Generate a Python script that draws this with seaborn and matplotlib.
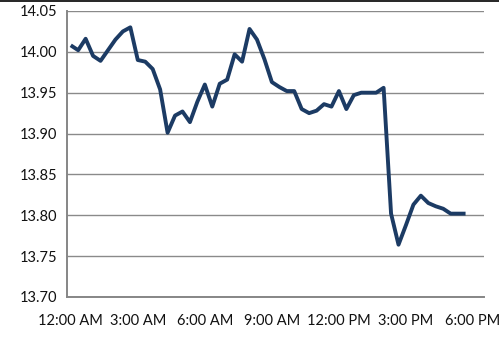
import numpy as np
import pandas as pd
import matplotlib
matplotlib.use("Agg")
import matplotlib.pyplot as plt
import seaborn as sns
from matplotlib.lines import Line2D

# 20-minute intervals starting at 12:00 AM
values = [14.008, 14.002, 14.016, 13.995, 13.989, 14.002, 14.015, 14.025, 14.030,
          13.990, 13.988, 13.979, 13.954, 13.901, 13.922, 13.927, 13.914, 13.939,
          13.960, 13.933, 13.961, 13.966, 13.997, 13.988, 14.028, 14.015, 13.991,
          13.963, 13.957, 13.952, 13.952, 13.930, 13.925, 13.928, 13.936, 13.933,
          13.952, 13.930, 13.947, 13.950, 13.950, 13.950, 13.956, 13.802, 13.764,
          13.788, 13.813, 13.824, 13.815, 13.811, 13.808, 13.802, 13.802, 13.802]
n_categories = 56
tick_labels = ["12:00 AM", "3:00 AM", "6:00 AM", "9:00 AM", "12:00 PM", "3:00 PM", "6:00 PM"]
label_every = 9
y_ticks = [13.70, 13.75, 13.80, 13.85, 13.90, 13.95, 14.00, 14.05]

df = pd.DataFrame({"slot": np.arange(len(values)), "price": values})

sns.set_style("white")
plt.rcParams["font.family"] = ["Lato", "DejaVu Sans"]

fig = plt.figure(figsize=(4.99, 3.37), dpi=100)
ax = fig.add_axes([0.1343, 0.1187, 0.836, 0.8487])

sns.lineplot(data=df, x="slot", y="price", ax=ax, color="#1C3B64", linewidth=2.8,
             solid_joinstyle="round", solid_capstyle="butt")

ax.set_xlim(-0.5, n_categories - 0.5)
ax.set_ylim(y_ticks[0], y_ticks[-1])
ax.set_yticks(y_ticks)
ax.set_yticklabels([f"{v:.2f}" for v in y_ticks])

ax.set_xticks(np.arange(0, n_categories + 1) - 0.5)
ax.set_xticklabels([])
ax.set_xticks(np.arange(len(tick_labels)) * label_every, minor=True)
ax.set_xticklabels(tick_labels, minor=True)
ax.tick_params(axis="x", which="major", direction="out", length=4, width=0.9, color="#868686")
ax.tick_params(axis="x", which="minor", length=0, pad=12, labelsize=10.5, labelcolor="#111111")
ax.tick_params(axis="y", direction="out", length=4, width=0.9, color="#868686",
               labelsize=10.5, labelcolor="#111111", pad=3)

ax.grid(axis="y", color="#8A8A8A", linewidth=1.0)
ax.set_axisbelow(True)
for s in ["top", "right"]:
    ax.spines[s].set_visible(False)
for s in ["left", "bottom"]:
    ax.spines[s].set_color("#868686")
    ax.spines[s].set_linewidth(1.4)

ax.set_xlabel("")
ax.set_ylabel("")

fig.add_artist(Line2D([0, 1], [0.998, 0.998], transform=fig.transFigure, color="black", linewidth=1.2))

fig.savefig("out.png", dpi=100)
